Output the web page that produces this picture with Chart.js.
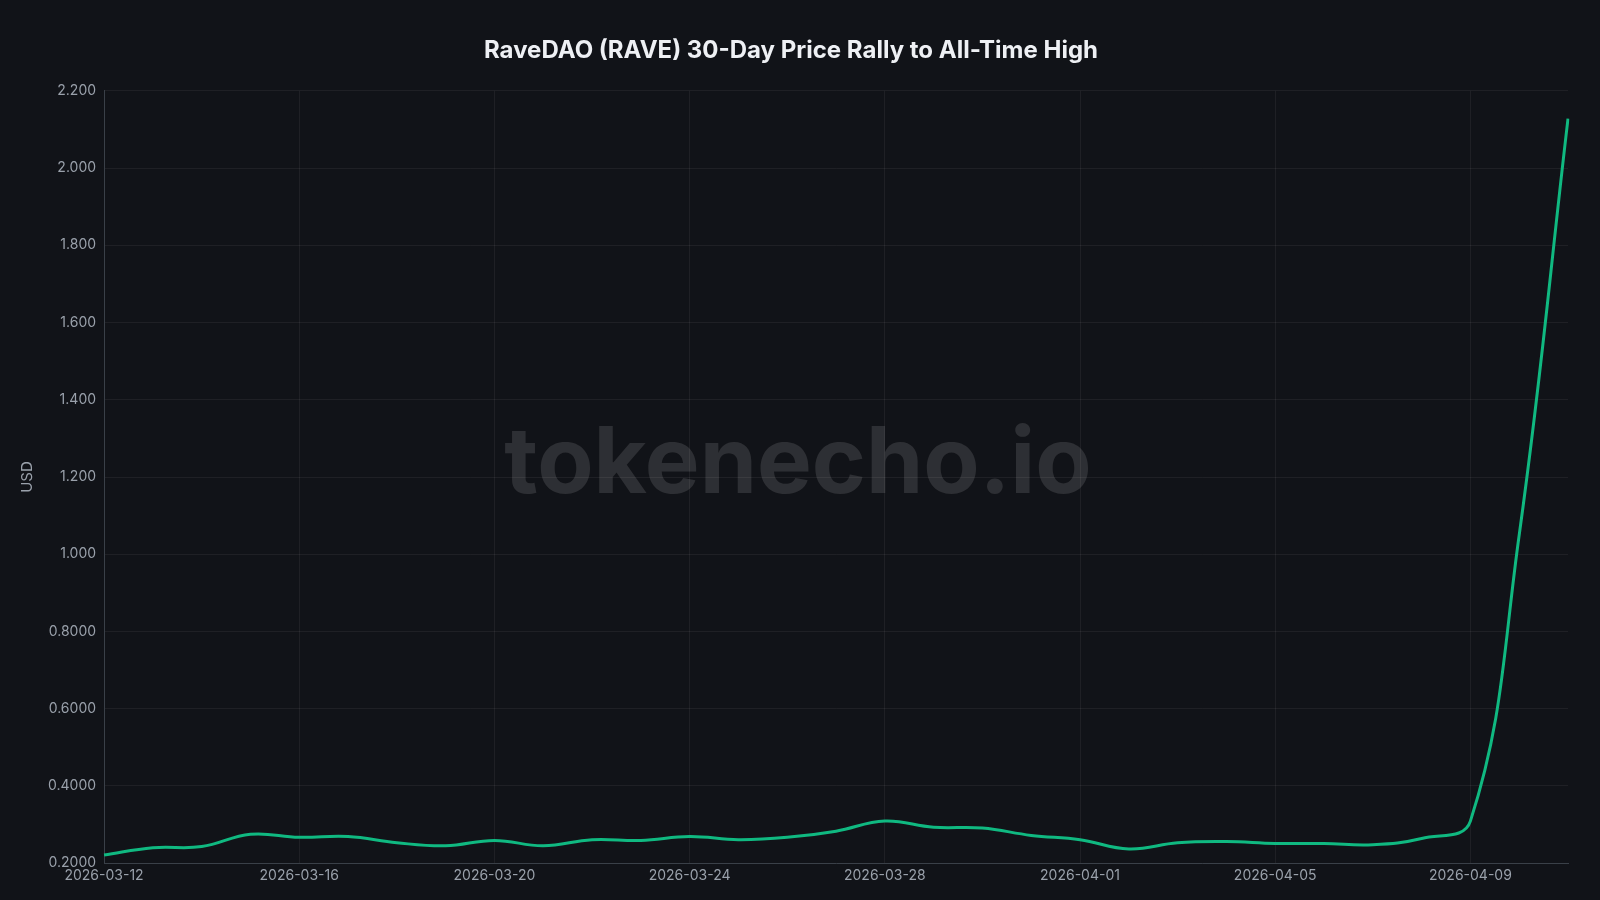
<!DOCTYPE html>
<html>
<head>
<meta charset="utf-8">
<script src="https://cdn.jsdelivr.net/npm/chart.js@4"></script>
<style>
  html, body { margin: 0; padding: 0; background: #111318; }
  #wrap { width: 1600px; height: 900px; }
</style>
</head>
<body>
<div id="wrap"><canvas id="price-chart"></canvas></div>
<script>
const dates = [
  "2026-03-12", "2026-03-13", "2026-03-14", "2026-03-15", "2026-03-16", "2026-03-17",
  "2026-03-18", "2026-03-19", "2026-03-20", "2026-03-21", "2026-03-22", "2026-03-23",
  "2026-03-24", "2026-03-25", "2026-03-26", "2026-03-27", "2026-03-28", "2026-03-29",
  "2026-03-30", "2026-03-31", "2026-04-01", "2026-04-02", "2026-04-03", "2026-04-04",
  "2026-04-05", "2026-04-06", "2026-04-07", "2026-04-08", "2026-04-09", "2026-04-10",
  "2026-04-11"
];
const prices = [
  0.221, 0.240, 0.243, 0.275, 0.267, 0.269, 0.253, 0.245, 0.259, 0.245, 0.261, 0.259,
  0.269, 0.261, 0.267, 0.283, 0.309, 0.293, 0.291, 0.272, 0.261, 0.237, 0.253, 0.256,
  0.251, 0.251, 0.248, 0.264, 0.309, 1.05, 2.128
];
const yMin = 0.2, yMax = 2.2, yStep = 0.2;

// watermark in the middle of the canvas
const watermark = {
  id: "watermark",
  beforeDatasetsDraw(chart) {
    const { ctx, chartArea: a } = chart;
    ctx.save();
    ctx.font = "bold 92px 'Inter', 'Liberation Sans', sans-serif";
    ctx.fillStyle = "rgba(255,255,255,0.12)";
    ctx.textAlign = "center";
    ctx.textBaseline = "middle";
    ctx.fillText("tokenecho.io", chart.width / 2 - 2, (a.top + a.bottom) / 2 - 12);
    ctx.restore();
  }
};

const ctx = document.getElementById("price-chart").getContext("2d");
new Chart(ctx, {
  type: "line",
  data: {
    labels: dates,
    datasets: [{
      label: "RAVE",
      data: prices,
      borderColor: "#10b981",
      borderWidth: 3,
      pointRadius: 0,
      tension: 0.4,
      fill: false
    }]
  },
  options: {
    responsive: true,
    maintainAspectRatio: false,
    animation: false,
    layout: { padding: { left: 14, right: 32, top: 12, bottom: 12 } },
    plugins: {
      legend: { display: false },
      title: {
        display: true,
        text: "RaveDAO (RAVE) 30-Day Price Rally to All-Time High",
        color: "#eef0f4",
        font: { family: "Inter, 'Liberation Sans', sans-serif", size: 24, weight: "bold" },
        padding: { top: 24, bottom: 26 }
      }
    },
    scales: {
      x: {
        grid: {
          color: c => c.index % 4 === 0 ? "rgba(255,255,255,0.06)" : "transparent",
          drawTicks: false
        },
        border: { color: "#3a4048" },
        ticks: {
          color: "#9aa1ab",
          font: { family: "Inter, sans-serif", size: 14 },
          autoSkip: false,
          maxRotation: 0,
          padding: 4,
          callback: (v, i) => i % 4 === 0 ? dates[i] : ""
        }
      },
      y: {
        min: yMin,
        max: yMax,
        grid: { color: "rgba(255,255,255,0.06)", drawTicks: false },
        border: { color: "#3a4048" },
        title: {
          display: true,
          text: "USD",
          color: "#9aa1ab",
          font: { family: "Inter, sans-serif", size: 15 }
        },
        ticks: {
          color: "#9aa1ab",
          font: { family: "Inter, sans-serif", size: 14 },
          stepSize: yStep,
          padding: 8,
          callback: v => v >= 1 ? v.toFixed(3) : v.toFixed(4)
        }
      }
    }
  },
  plugins: [watermark]
});
</script>
</body>
</html>
